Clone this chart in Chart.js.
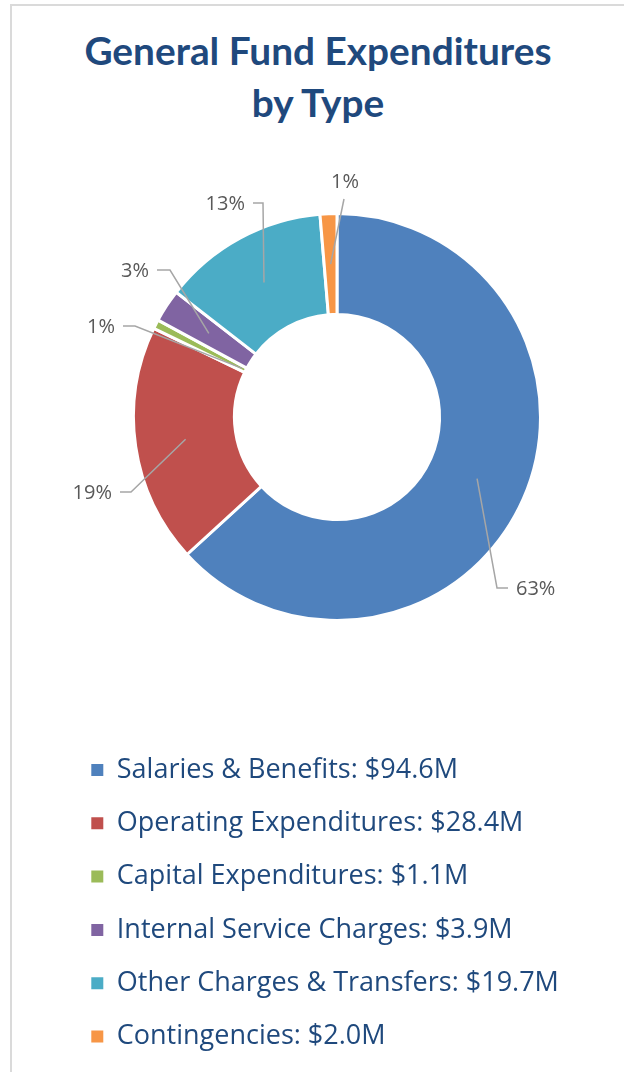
<!DOCTYPE html>
<html>
<head>
<meta charset="utf-8">
<title>General Fund Expenditures by Type</title>
<script src="https://cdn.jsdelivr.net/npm/chart.js@4.4.1/dist/chart.umd.min.js"></script>
<style>
  html, body { margin: 0; padding: 0; background: #fff; overflow: hidden; }
  body { width: 624px; height: 1072px; position: relative; }
  .card {
    position: absolute; left: 10px; top: 4px;
    width: 700px; height: 1200px;
    border: 2px solid #dadada;
  }
  h1 {
    position: absolute; left: 0; top: 24px; width: 636px; margin: 0;
    text-align: center; color: #1f497d;
    font: bold 38.8px/52px Lato, "Open Sans", sans-serif;
  }
  .chart-box { position: absolute; left: 0; top: 0; width: 624px; height: 1072px; }
</style>
</head>
<body>
<div class="card"></div>
<h1>General Fund Expenditures<br>by Type</h1>
<div class="chart-box"><canvas id="gf-donut"></canvas></div>

<script>
// expenditure types and amounts in $M
const categories = [
  'Salaries & Benefits',
  'Operating Expenditures',
  'Capital Expenditures',
  'Internal Service Charges',
  'Other Charges & Transfers',
  'Contingencies'
];
const amounts = [94.6, 28.4, 1.1, 3.9, 19.7, 2.0];
const sliceColors = ['#4f81bd', '#c0504d', '#9bbb59', '#8064a2', '#4bacc6', '#f79646'];

// where each percent label sits: leader start depth inside the ring (0 = inner edge),
// elbow offset from the donut centre, and the short horizontal tail
const labelSpots = [
  { depth: 0.5,  dx: 160,  dy: 171,  tail: 11 },
  { depth: 0.5,  dx: -206, dy: 75,   tail: -11 },
  { depth: 0.04, dx: -202, dy: -91,  tail: -12 },
  { depth: 0.5,  dx: -167, dy: -147, tail: -13 },
  { depth: 0.5,  dx: -74,  dy: -214, tail: -10 },
  { depth: 0.5,  dx: 7,    dy: -218, tail: 0 }
];

const total = amounts.reduce((a, b) => a + b, 0);

const leaderLabels = {
  id: 'leaderLabels',
  afterDatasetsDraw(chart) {
    const ctx = chart.ctx;
    const arcs = chart.getDatasetMeta(0).data;
    ctx.save();
    ctx.strokeStyle = '#a6a6a6';
    ctx.lineWidth = 1.5;
    ctx.fillStyle = '#595959';
    ctx.font = '20px "Open Sans"';
    ctx.textBaseline = 'middle';
    arcs.forEach((arc, i) => {
      const spot = labelSpots[i];
      const p = arc.getProps(['x', 'y', 'startAngle', 'endAngle', 'innerRadius', 'outerRadius'], true);
      const mid = (p.startAngle + p.endAngle) / 2;
      const r = p.innerRadius + (p.outerRadius - p.innerRadius) * spot.depth;
      const ex = p.x + spot.dx, ey = p.y + spot.dy;
      const tx = ex + spot.tail;
      ctx.beginPath();
      ctx.moveTo(p.x + Math.cos(mid) * r, p.y + Math.sin(mid) * r);
      ctx.lineTo(ex, ey);
      if (spot.tail) ctx.lineTo(tx, ey);
      ctx.stroke();

      const text = Math.round(amounts[i] / total * 100) + '%';
      if (spot.tail === 0) {
        ctx.textAlign = 'center';
        ctx.fillText(text, ex + 1, ey - 17);
      } else if (spot.tail > 0) {
        ctx.textAlign = 'left';
        ctx.fillText(text, tx + 8, ey + 1);
      } else {
        ctx.textAlign = 'right';
        ctx.fillText(text, tx - 8, ey + 1);
      }
    });
    ctx.restore();
  }
};

new Chart(document.getElementById('gf-donut'), {
  type: 'doughnut',
  data: {
    labels: categories,
    datasets: [{
      data: amounts,
      backgroundColor: sliceColors,
      borderColor: '#ffffff',
      borderWidth: 3
    }]
  },
  options: {
    responsive: true,
    maintainAspectRatio: false,
    animation: false,
    radius: 203.5,
    cutout: '50.4%',
    // keeps the ring centred at (337, 417) and the legend rows at ~53px pitch
    layout: { padding: { left: 65, right: 15, top: 103.8, bottom: 12 } },
    plugins: {
      title: { display: false },
      tooltip: { enabled: false },
      legend: {
        position: 'bottom',
        align: 'start',
        labels: {
          boxWidth: 12,
          boxHeight: 12,
          padding: 26.3,
          color: '#1f497d',
          font: { family: 'Open Sans', size: 27 },
          generateLabels: () => categories.map((c, i) => ({
            text: c + ': $' + amounts[i].toFixed(1) + 'M',
            fillStyle: sliceColors[i],
            strokeStyle: sliceColors[i],
            fontColor: '#1f497d',
            lineWidth: 0,
            hidden: false,
            index: i
          }))
        }
      }
    }
  },
  plugins: [leaderLabels]
});
</script>
</body>
</html>
